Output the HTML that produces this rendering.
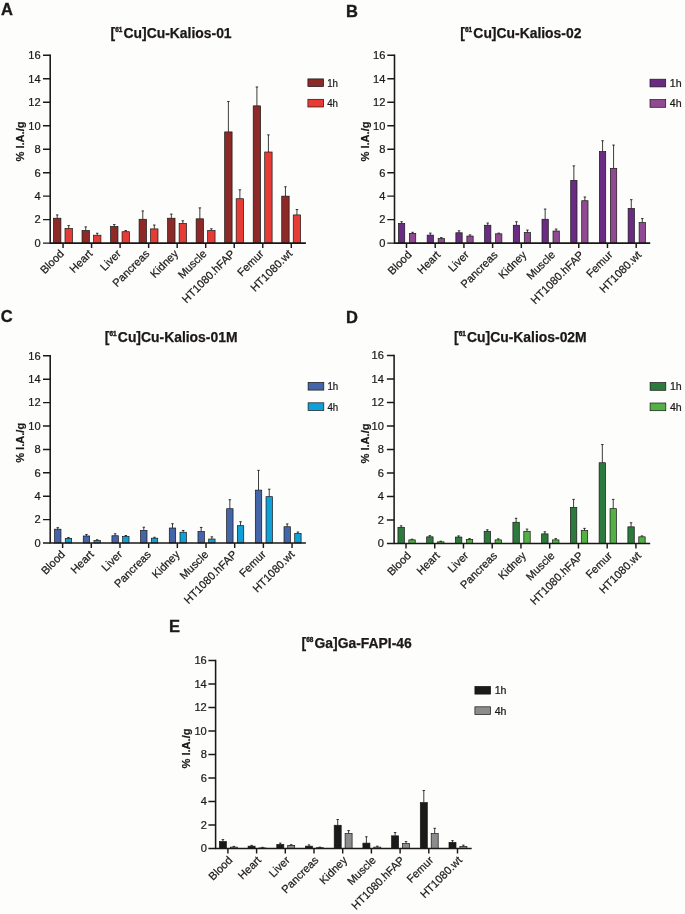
<!DOCTYPE html>
<html><head><meta charset="utf-8"><title>Biodistribution</title>
<style>html,body{margin:0;padding:0;background:#fdfdfc;}svg{display:block;filter:blur(0.3px);font-family:"Liberation Sans",sans-serif;}</style></head><body>
<svg width="685" height="914" viewBox="0 0 685 914">
<rect width="685" height="914" fill="#fdfdfc"/>
<g>
<text x="1.0" y="15.2" font-size="16.5" font-weight="bold" fill="#1c1819" stroke="#1c1819" stroke-width="0.35">A</text>
<text x="110.5" y="38.4" font-size="13.9" font-weight="bold" fill="#1c1819" stroke="#1c1819" stroke-width="0.25">[<tspan font-size="6.4" dy="-6.4" stroke-width="0.4">61</tspan><tspan dy="6.4" dx="1.3">Cu]Cu-Kalios-01</tspan></text>
<path d="M57.20 218.21V214.92M55.95 214.92H58.45" stroke="#0a0a0a" stroke-width="0.8" fill="none"/>
<rect x="53.50" y="218.21" width="7.4" height="24.89" fill="#8d2a28" stroke="#161616" stroke-width="0.7"/>
<path d="M68.70 228.42V225.61M67.45 225.61H69.95" stroke="#0a0a0a" stroke-width="0.8" fill="none"/>
<rect x="65.00" y="228.42" width="7.4" height="14.68" fill="#e73c36" stroke="#161616" stroke-width="0.7"/>
<path d="M85.73 230.54V226.90M84.48 226.90H86.98" stroke="#0a0a0a" stroke-width="0.8" fill="none"/>
<rect x="82.03" y="230.54" width="7.4" height="12.56" fill="#8d2a28" stroke="#161616" stroke-width="0.7"/>
<path d="M97.23 235.23V233.24M95.98 233.24H98.48" stroke="#0a0a0a" stroke-width="0.8" fill="none"/>
<rect x="93.53" y="235.23" width="7.4" height="7.87" fill="#e73c36" stroke="#161616" stroke-width="0.7"/>
<path d="M114.26 226.55V224.55M113.01 224.55H115.51" stroke="#0a0a0a" stroke-width="0.8" fill="none"/>
<rect x="110.56" y="226.55" width="7.4" height="16.55" fill="#8d2a28" stroke="#161616" stroke-width="0.7"/>
<path d="M125.76 231.71V230.54M124.51 230.54H127.01" stroke="#0a0a0a" stroke-width="0.8" fill="none"/>
<rect x="122.06" y="231.71" width="7.4" height="11.39" fill="#e73c36" stroke="#161616" stroke-width="0.7"/>
<path d="M142.79 219.27V210.93M141.54 210.93H144.04" stroke="#0a0a0a" stroke-width="0.8" fill="none"/>
<rect x="139.09" y="219.27" width="7.4" height="23.83" fill="#8d2a28" stroke="#161616" stroke-width="0.7"/>
<path d="M154.29 228.89V225.02M153.04 225.02H155.54" stroke="#0a0a0a" stroke-width="0.8" fill="none"/>
<rect x="150.59" y="228.89" width="7.4" height="14.21" fill="#e73c36" stroke="#161616" stroke-width="0.7"/>
<path d="M171.32 218.21V214.10M170.07 214.10H172.57" stroke="#0a0a0a" stroke-width="0.8" fill="none"/>
<rect x="167.62" y="218.21" width="7.4" height="24.89" fill="#8d2a28" stroke="#161616" stroke-width="0.7"/>
<path d="M182.82 223.49V220.79M181.57 220.79H184.07" stroke="#0a0a0a" stroke-width="0.8" fill="none"/>
<rect x="179.12" y="223.49" width="7.4" height="19.61" fill="#e73c36" stroke="#161616" stroke-width="0.7"/>
<path d="M199.85 218.80V207.88M198.60 207.88H201.10" stroke="#0a0a0a" stroke-width="0.8" fill="none"/>
<rect x="196.15" y="218.80" width="7.4" height="24.30" fill="#8d2a28" stroke="#161616" stroke-width="0.7"/>
<path d="M211.35 230.54V228.78M210.10 228.78H212.60" stroke="#0a0a0a" stroke-width="0.8" fill="none"/>
<rect x="207.65" y="230.54" width="7.4" height="12.56" fill="#e73c36" stroke="#161616" stroke-width="0.7"/>
<path d="M228.38 131.92V101.52M227.13 101.52H229.63" stroke="#0a0a0a" stroke-width="0.8" fill="none"/>
<rect x="224.68" y="131.92" width="7.4" height="111.18" fill="#8d2a28" stroke="#161616" stroke-width="0.7"/>
<path d="M239.88 198.72V189.80M238.63 189.80H241.13" stroke="#0a0a0a" stroke-width="0.8" fill="none"/>
<rect x="236.18" y="198.72" width="7.4" height="44.38" fill="#e73c36" stroke="#161616" stroke-width="0.7"/>
<path d="M256.91 105.86V86.96M255.66 86.96H258.16" stroke="#0a0a0a" stroke-width="0.8" fill="none"/>
<rect x="253.21" y="105.86" width="7.4" height="137.24" fill="#8d2a28" stroke="#161616" stroke-width="0.7"/>
<path d="M268.41 152.00V134.86M267.16 134.86H269.66" stroke="#0a0a0a" stroke-width="0.8" fill="none"/>
<rect x="264.71" y="152.00" width="7.4" height="91.10" fill="#e73c36" stroke="#161616" stroke-width="0.7"/>
<path d="M285.44 196.14V186.75M284.19 186.75H286.69" stroke="#0a0a0a" stroke-width="0.8" fill="none"/>
<rect x="281.74" y="196.14" width="7.4" height="46.96" fill="#8d2a28" stroke="#161616" stroke-width="0.7"/>
<path d="M296.94 214.92V209.52M295.69 209.52H298.19" stroke="#0a0a0a" stroke-width="0.8" fill="none"/>
<rect x="293.24" y="214.92" width="7.4" height="28.18" fill="#e73c36" stroke="#161616" stroke-width="0.7"/>
<path d="M50.20 54.56V243.80M49.50 243.10H305.90" stroke="#1c1819" stroke-width="1.55" fill="none"/>
<path d="M43.00 243.10H50.20M43.00 219.62H50.20M43.00 196.14H50.20M43.00 172.66H50.20M43.00 149.18H50.20M43.00 125.70H50.20M43.00 102.22H50.20M43.00 78.74H50.20M43.00 55.26H50.20M63.05 243.10V248.10M91.58 243.10V248.10M120.11 243.10V248.10M148.64 243.10V248.10M177.17 243.10V248.10M205.70 243.10V248.10M234.23 243.10V248.10M262.76 243.10V248.10M291.29 243.10V248.10" stroke="#1c1819" stroke-width="1.45" fill="none"/>
<text x="40.6" y="246.9" font-size="11.1" text-anchor="end" fill="#1c1819" stroke="#1c1819" stroke-width="0.22">0</text>
<text x="40.6" y="223.4" font-size="11.1" text-anchor="end" fill="#1c1819" stroke="#1c1819" stroke-width="0.22">2</text>
<text x="40.6" y="199.9" font-size="11.1" text-anchor="end" fill="#1c1819" stroke="#1c1819" stroke-width="0.22">4</text>
<text x="40.6" y="176.5" font-size="11.1" text-anchor="end" fill="#1c1819" stroke="#1c1819" stroke-width="0.22">6</text>
<text x="40.6" y="153.0" font-size="11.1" text-anchor="end" fill="#1c1819" stroke="#1c1819" stroke-width="0.22">8</text>
<text x="40.6" y="129.5" font-size="11.1" text-anchor="end" fill="#1c1819" stroke="#1c1819" stroke-width="0.22">10</text>
<text x="40.6" y="106.0" font-size="11.1" text-anchor="end" fill="#1c1819" stroke="#1c1819" stroke-width="0.22">12</text>
<text x="40.6" y="82.5" font-size="11.1" text-anchor="end" fill="#1c1819" stroke="#1c1819" stroke-width="0.22">14</text>
<text x="40.6" y="59.1" font-size="11.1" text-anchor="end" fill="#1c1819" stroke="#1c1819" stroke-width="0.22">16</text>
<text transform="translate(24.0 141.5) rotate(-90)" font-size="11.1" font-weight="bold" text-anchor="middle" fill="#1c1819" stroke="#1c1819" stroke-width="0.2">% I.A./g</text>
<text transform="translate(64.7 254.4) rotate(-45)" font-size="11.1" text-anchor="end" fill="#1c1819" stroke="#1c1819" stroke-width="0.22">Blood</text>
<text transform="translate(93.2 254.4) rotate(-45)" font-size="11.1" text-anchor="end" fill="#1c1819" stroke="#1c1819" stroke-width="0.22">Heart</text>
<text transform="translate(121.7 254.4) rotate(-45)" font-size="11.1" text-anchor="end" fill="#1c1819" stroke="#1c1819" stroke-width="0.22">Liver</text>
<text transform="translate(150.2 254.4) rotate(-45)" font-size="11.1" text-anchor="end" fill="#1c1819" stroke="#1c1819" stroke-width="0.22">Pancreas</text>
<text transform="translate(178.8 254.4) rotate(-45)" font-size="11.1" text-anchor="end" fill="#1c1819" stroke="#1c1819" stroke-width="0.22">Kidney</text>
<text transform="translate(207.3 254.4) rotate(-45)" font-size="11.1" text-anchor="end" fill="#1c1819" stroke="#1c1819" stroke-width="0.22">Muscle</text>
<text transform="translate(235.8 254.4) rotate(-45)" font-size="11.1" text-anchor="end" fill="#1c1819" stroke="#1c1819" stroke-width="0.22">HT1080.hFAP</text>
<text transform="translate(264.4 254.4) rotate(-45)" font-size="11.1" text-anchor="end" fill="#1c1819" stroke="#1c1819" stroke-width="0.22">Femur</text>
<text transform="translate(292.9 254.4) rotate(-45)" font-size="11.1" text-anchor="end" fill="#1c1819" stroke="#1c1819" stroke-width="0.22">HT1080.wt</text>
<rect x="307.9" y="78.9" width="15.7" height="7.7" fill="#8d2a28" stroke="#161616" stroke-width="0.7"/>
<text transform="translate(327.2 86.6) scale(0.92 1)" font-size="10.6" fill="#1c1819" stroke="#1c1819" stroke-width="0.22">1h</text>
<rect x="307.9" y="99.3" width="15.7" height="7.7" fill="#e73c36" stroke="#161616" stroke-width="0.7"/>
<text transform="translate(327.2 107.0) scale(0.92 1)" font-size="10.6" fill="#1c1819" stroke="#1c1819" stroke-width="0.22">4h</text>
</g>
<g>
<text x="346.0" y="16.5" font-size="16.5" font-weight="bold" fill="#1c1819" stroke="#1c1819" stroke-width="0.35">B</text>
<text x="460.3" y="38.4" font-size="13.9" font-weight="bold" fill="#1c1819" stroke="#1c1819" stroke-width="0.25">[<tspan font-size="6.4" dy="-6.4" stroke-width="0.4">61</tspan><tspan dy="6.4" dx="1.3">Cu]Cu-Kalios-02</tspan></text>
<path d="M401.60 223.49V221.73M400.35 221.73H402.85" stroke="#0a0a0a" stroke-width="0.8" fill="none"/>
<rect x="398.45" y="223.49" width="6.3" height="19.61" fill="#6a2c83" stroke="#161616" stroke-width="0.7"/>
<path d="M412.60 233.36V232.30M411.35 232.30H413.85" stroke="#0a0a0a" stroke-width="0.8" fill="none"/>
<rect x="409.45" y="233.36" width="6.3" height="9.74" fill="#8f4a91" stroke="#161616" stroke-width="0.7"/>
<path d="M430.31 235.12V233.12M429.06 233.12H431.56" stroke="#0a0a0a" stroke-width="0.8" fill="none"/>
<rect x="427.16" y="235.12" width="6.3" height="7.98" fill="#6a2c83" stroke="#161616" stroke-width="0.7"/>
<path d="M441.31 238.64V237.58M440.06 237.58H442.56" stroke="#0a0a0a" stroke-width="0.8" fill="none"/>
<rect x="438.16" y="238.64" width="6.3" height="4.46" fill="#8f4a91" stroke="#161616" stroke-width="0.7"/>
<path d="M459.02 232.77V230.77M457.77 230.77H460.27" stroke="#0a0a0a" stroke-width="0.8" fill="none"/>
<rect x="455.87" y="232.77" width="6.3" height="10.33" fill="#6a2c83" stroke="#161616" stroke-width="0.7"/>
<path d="M470.02 236.06V234.88M468.77 234.88H471.27" stroke="#0a0a0a" stroke-width="0.8" fill="none"/>
<rect x="466.87" y="236.06" width="6.3" height="7.04" fill="#8f4a91" stroke="#161616" stroke-width="0.7"/>
<path d="M487.73 225.26V223.02M486.48 223.02H488.98" stroke="#0a0a0a" stroke-width="0.8" fill="none"/>
<rect x="484.58" y="225.26" width="6.3" height="17.84" fill="#6a2c83" stroke="#161616" stroke-width="0.7"/>
<path d="M498.73 233.83V233.12M497.48 233.12H499.98" stroke="#0a0a0a" stroke-width="0.8" fill="none"/>
<rect x="495.58" y="233.83" width="6.3" height="9.27" fill="#8f4a91" stroke="#161616" stroke-width="0.7"/>
<path d="M516.44 225.26V221.73M515.19 221.73H517.69" stroke="#0a0a0a" stroke-width="0.8" fill="none"/>
<rect x="513.29" y="225.26" width="6.3" height="17.84" fill="#6a2c83" stroke="#161616" stroke-width="0.7"/>
<path d="M527.44 232.53V230.07M526.19 230.07H528.69" stroke="#0a0a0a" stroke-width="0.8" fill="none"/>
<rect x="524.29" y="232.53" width="6.3" height="10.57" fill="#8f4a91" stroke="#161616" stroke-width="0.7"/>
<path d="M545.15 219.27V209.05M543.90 209.05H546.40" stroke="#0a0a0a" stroke-width="0.8" fill="none"/>
<rect x="542.00" y="219.27" width="6.3" height="23.83" fill="#6a2c83" stroke="#161616" stroke-width="0.7"/>
<path d="M556.15 231.01V229.01M554.90 229.01H557.40" stroke="#0a0a0a" stroke-width="0.8" fill="none"/>
<rect x="553.00" y="231.01" width="6.3" height="12.09" fill="#8f4a91" stroke="#161616" stroke-width="0.7"/>
<path d="M573.86 180.41V165.85M572.61 165.85H575.11" stroke="#0a0a0a" stroke-width="0.8" fill="none"/>
<rect x="570.71" y="180.41" width="6.3" height="62.69" fill="#6a2c83" stroke="#161616" stroke-width="0.7"/>
<path d="M584.86 200.72V196.96M583.61 196.96H586.11" stroke="#0a0a0a" stroke-width="0.8" fill="none"/>
<rect x="581.71" y="200.72" width="6.3" height="42.38" fill="#8f4a91" stroke="#161616" stroke-width="0.7"/>
<path d="M602.57 151.53V140.73M601.32 140.73H603.82" stroke="#0a0a0a" stroke-width="0.8" fill="none"/>
<rect x="599.42" y="151.53" width="6.3" height="91.57" fill="#6a2c83" stroke="#161616" stroke-width="0.7"/>
<path d="M613.57 168.32V145.07M612.32 145.07H614.82" stroke="#0a0a0a" stroke-width="0.8" fill="none"/>
<rect x="610.42" y="168.32" width="6.3" height="74.78" fill="#8f4a91" stroke="#161616" stroke-width="0.7"/>
<path d="M631.28 208.47V199.66M630.03 199.66H632.53" stroke="#0a0a0a" stroke-width="0.8" fill="none"/>
<rect x="628.13" y="208.47" width="6.3" height="34.63" fill="#6a2c83" stroke="#161616" stroke-width="0.7"/>
<path d="M642.28 222.56V218.56M641.03 218.56H643.53" stroke="#0a0a0a" stroke-width="0.8" fill="none"/>
<rect x="639.13" y="222.56" width="6.3" height="20.54" fill="#8f4a91" stroke="#161616" stroke-width="0.7"/>
<path d="M394.50 54.56V243.80M393.80 243.10H650.20" stroke="#1c1819" stroke-width="1.55" fill="none"/>
<path d="M387.30 243.10H394.50M387.30 219.62H394.50M387.30 196.14H394.50M387.30 172.66H394.50M387.30 149.18H394.50M387.30 125.70H394.50M387.30 102.22H394.50M387.30 78.74H394.50M387.30 55.26H394.50M406.50 243.10V248.10M435.21 243.10V248.10M463.92 243.10V248.10M492.63 243.10V248.10M521.34 243.10V248.10M550.05 243.10V248.10M578.76 243.10V248.10M607.47 243.10V248.10M636.18 243.10V248.10" stroke="#1c1819" stroke-width="1.45" fill="none"/>
<text x="385.4" y="246.9" font-size="11.1" text-anchor="end" fill="#1c1819" stroke="#1c1819" stroke-width="0.22">0</text>
<text x="385.4" y="223.4" font-size="11.1" text-anchor="end" fill="#1c1819" stroke="#1c1819" stroke-width="0.22">2</text>
<text x="385.4" y="199.9" font-size="11.1" text-anchor="end" fill="#1c1819" stroke="#1c1819" stroke-width="0.22">4</text>
<text x="385.4" y="176.5" font-size="11.1" text-anchor="end" fill="#1c1819" stroke="#1c1819" stroke-width="0.22">6</text>
<text x="385.4" y="153.0" font-size="11.1" text-anchor="end" fill="#1c1819" stroke="#1c1819" stroke-width="0.22">8</text>
<text x="385.4" y="129.5" font-size="11.1" text-anchor="end" fill="#1c1819" stroke="#1c1819" stroke-width="0.22">10</text>
<text x="385.4" y="106.0" font-size="11.1" text-anchor="end" fill="#1c1819" stroke="#1c1819" stroke-width="0.22">12</text>
<text x="385.4" y="82.5" font-size="11.1" text-anchor="end" fill="#1c1819" stroke="#1c1819" stroke-width="0.22">14</text>
<text x="385.4" y="59.1" font-size="11.1" text-anchor="end" fill="#1c1819" stroke="#1c1819" stroke-width="0.22">16</text>
<text transform="translate(368.9 141.5) rotate(-90)" font-size="11.1" font-weight="bold" text-anchor="middle" fill="#1c1819" stroke="#1c1819" stroke-width="0.2">% I.A./g</text>
<text transform="translate(412.3 255.5) rotate(-45)" font-size="11.1" text-anchor="end" fill="#1c1819" stroke="#1c1819" stroke-width="0.22">Blood</text>
<text transform="translate(441.0 255.5) rotate(-45)" font-size="11.1" text-anchor="end" fill="#1c1819" stroke="#1c1819" stroke-width="0.22">Heart</text>
<text transform="translate(469.7 255.5) rotate(-45)" font-size="11.1" text-anchor="end" fill="#1c1819" stroke="#1c1819" stroke-width="0.22">Liver</text>
<text transform="translate(498.4 255.5) rotate(-45)" font-size="11.1" text-anchor="end" fill="#1c1819" stroke="#1c1819" stroke-width="0.22">Pancreas</text>
<text transform="translate(527.1 255.5) rotate(-45)" font-size="11.1" text-anchor="end" fill="#1c1819" stroke="#1c1819" stroke-width="0.22">Kidney</text>
<text transform="translate(555.8 255.5) rotate(-45)" font-size="11.1" text-anchor="end" fill="#1c1819" stroke="#1c1819" stroke-width="0.22">Muscle</text>
<text transform="translate(584.6 255.5) rotate(-45)" font-size="11.1" text-anchor="end" fill="#1c1819" stroke="#1c1819" stroke-width="0.22">HT1080.hFAP</text>
<text transform="translate(613.3 255.5) rotate(-45)" font-size="11.1" text-anchor="end" fill="#1c1819" stroke="#1c1819" stroke-width="0.22">Femur</text>
<text transform="translate(642.0 255.5) rotate(-45)" font-size="11.1" text-anchor="end" fill="#1c1819" stroke="#1c1819" stroke-width="0.22">HT1080.wt</text>
<rect x="650.0" y="79.2" width="15.7" height="7.7" fill="#6a2c83" stroke="#161616" stroke-width="0.7"/>
<text transform="translate(669.8 86.9) scale(1.0 1)" font-size="10.6" fill="#1c1819" stroke="#1c1819" stroke-width="0.22">1h</text>
<rect x="650.0" y="99.6" width="15.7" height="7.7" fill="#8f4a91" stroke="#161616" stroke-width="0.7"/>
<text transform="translate(669.8 107.3) scale(1.0 1)" font-size="10.6" fill="#1c1819" stroke="#1c1819" stroke-width="0.22">4h</text>
</g>
<g>
<text x="0.8" y="321.6" font-size="16.5" font-weight="bold" fill="#1c1819" stroke="#1c1819" stroke-width="0.35">C</text>
<text x="104.8" y="342.0" font-size="13.9" font-weight="bold" fill="#1c1819" stroke="#1c1819" stroke-width="0.25">[<tspan font-size="6.4" dy="-6.4" stroke-width="0.4">61</tspan><tspan dy="6.4" dx="1.3">Cu]Cu-Kalios-01M</tspan></text>
<path d="M57.77 529.19V527.67M56.52 527.67H59.02" stroke="#0a0a0a" stroke-width="0.8" fill="none"/>
<rect x="54.57" y="529.19" width="6.4" height="13.81" fill="#4466a9" stroke="#161616" stroke-width="0.7"/>
<path d="M68.47 538.44V537.50M67.22 537.50H69.72" stroke="#0a0a0a" stroke-width="0.8" fill="none"/>
<rect x="65.27" y="538.44" width="6.4" height="4.56" fill="#10a0d8" stroke="#161616" stroke-width="0.7"/>
<path d="M86.45 535.98V534.46M85.20 534.46H87.70" stroke="#0a0a0a" stroke-width="0.8" fill="none"/>
<rect x="83.25" y="535.98" width="6.4" height="7.02" fill="#4466a9" stroke="#161616" stroke-width="0.7"/>
<path d="M97.15 540.54V539.72M95.90 539.72H98.40" stroke="#0a0a0a" stroke-width="0.8" fill="none"/>
<rect x="93.95" y="540.54" width="6.4" height="2.46" fill="#10a0d8" stroke="#161616" stroke-width="0.7"/>
<path d="M115.13 535.75V533.76M113.88 533.76H116.38" stroke="#0a0a0a" stroke-width="0.8" fill="none"/>
<rect x="111.93" y="535.75" width="6.4" height="7.25" fill="#4466a9" stroke="#161616" stroke-width="0.7"/>
<path d="M125.83 536.45V535.51M124.58 535.51H127.08" stroke="#0a0a0a" stroke-width="0.8" fill="none"/>
<rect x="122.63" y="536.45" width="6.4" height="6.55" fill="#10a0d8" stroke="#161616" stroke-width="0.7"/>
<path d="M143.81 530.48V527.21M142.56 527.21H145.06" stroke="#0a0a0a" stroke-width="0.8" fill="none"/>
<rect x="140.61" y="530.48" width="6.4" height="12.52" fill="#4466a9" stroke="#161616" stroke-width="0.7"/>
<path d="M154.51 538.20V537.27M153.26 537.27H155.76" stroke="#0a0a0a" stroke-width="0.8" fill="none"/>
<rect x="151.31" y="538.20" width="6.4" height="4.80" fill="#10a0d8" stroke="#161616" stroke-width="0.7"/>
<path d="M172.49 528.02V523.70M171.24 523.70H173.74" stroke="#0a0a0a" stroke-width="0.8" fill="none"/>
<rect x="169.29" y="528.02" width="6.4" height="14.98" fill="#4466a9" stroke="#161616" stroke-width="0.7"/>
<path d="M183.19 532.24V530.48M181.94 530.48H184.44" stroke="#0a0a0a" stroke-width="0.8" fill="none"/>
<rect x="179.99" y="532.24" width="6.4" height="10.76" fill="#10a0d8" stroke="#161616" stroke-width="0.7"/>
<path d="M201.17 531.53V527.44M199.92 527.44H202.42" stroke="#0a0a0a" stroke-width="0.8" fill="none"/>
<rect x="197.97" y="531.53" width="6.4" height="11.47" fill="#4466a9" stroke="#161616" stroke-width="0.7"/>
<path d="M211.87 539.02V536.80M210.62 536.80H213.12" stroke="#0a0a0a" stroke-width="0.8" fill="none"/>
<rect x="208.67" y="539.02" width="6.4" height="3.98" fill="#10a0d8" stroke="#161616" stroke-width="0.7"/>
<path d="M229.85 508.72V499.71M228.60 499.71H231.10" stroke="#0a0a0a" stroke-width="0.8" fill="none"/>
<rect x="226.65" y="508.72" width="6.4" height="34.28" fill="#4466a9" stroke="#161616" stroke-width="0.7"/>
<path d="M240.55 525.68V521.71M239.30 521.71H241.80" stroke="#0a0a0a" stroke-width="0.8" fill="none"/>
<rect x="237.35" y="525.68" width="6.4" height="17.32" fill="#10a0d8" stroke="#161616" stroke-width="0.7"/>
<path d="M258.53 490.12V470.34M257.28 470.34H259.78" stroke="#0a0a0a" stroke-width="0.8" fill="none"/>
<rect x="255.33" y="490.12" width="6.4" height="52.88" fill="#4466a9" stroke="#161616" stroke-width="0.7"/>
<path d="M269.23 496.67V489.18M267.98 489.18H270.48" stroke="#0a0a0a" stroke-width="0.8" fill="none"/>
<rect x="266.03" y="496.67" width="6.4" height="46.33" fill="#10a0d8" stroke="#161616" stroke-width="0.7"/>
<path d="M287.21 526.74V523.93M285.96 523.93H288.46" stroke="#0a0a0a" stroke-width="0.8" fill="none"/>
<rect x="284.01" y="526.74" width="6.4" height="16.26" fill="#4466a9" stroke="#161616" stroke-width="0.7"/>
<path d="M297.91 533.52V532.00M296.66 532.00H299.16" stroke="#0a0a0a" stroke-width="0.8" fill="none"/>
<rect x="294.71" y="533.52" width="6.4" height="9.48" fill="#10a0d8" stroke="#161616" stroke-width="0.7"/>
<path d="M50.20 355.10V543.70M49.50 543.00H305.90" stroke="#1c1819" stroke-width="1.55" fill="none"/>
<path d="M43.00 543.00H50.20M43.00 519.60H50.20M43.00 496.20H50.20M43.00 472.80H50.20M43.00 449.40H50.20M43.00 426.00H50.20M43.00 402.60H50.20M43.00 379.20H50.20M43.00 355.80H50.20M62.62 543.00V548.00M91.30 543.00V548.00M119.98 543.00V548.00M148.66 543.00V548.00M177.34 543.00V548.00M206.02 543.00V548.00M234.70 543.00V548.00M263.38 543.00V548.00M292.06 543.00V548.00" stroke="#1c1819" stroke-width="1.45" fill="none"/>
<text x="40.6" y="546.8" font-size="11.1" text-anchor="end" fill="#1c1819" stroke="#1c1819" stroke-width="0.22">0</text>
<text x="40.6" y="523.4" font-size="11.1" text-anchor="end" fill="#1c1819" stroke="#1c1819" stroke-width="0.22">2</text>
<text x="40.6" y="500.0" font-size="11.1" text-anchor="end" fill="#1c1819" stroke="#1c1819" stroke-width="0.22">4</text>
<text x="40.6" y="476.6" font-size="11.1" text-anchor="end" fill="#1c1819" stroke="#1c1819" stroke-width="0.22">6</text>
<text x="40.6" y="453.2" font-size="11.1" text-anchor="end" fill="#1c1819" stroke="#1c1819" stroke-width="0.22">8</text>
<text x="40.6" y="429.8" font-size="11.1" text-anchor="end" fill="#1c1819" stroke="#1c1819" stroke-width="0.22">10</text>
<text x="40.6" y="406.4" font-size="11.1" text-anchor="end" fill="#1c1819" stroke="#1c1819" stroke-width="0.22">12</text>
<text x="40.6" y="383.0" font-size="11.1" text-anchor="end" fill="#1c1819" stroke="#1c1819" stroke-width="0.22">14</text>
<text x="40.6" y="359.6" font-size="11.1" text-anchor="end" fill="#1c1819" stroke="#1c1819" stroke-width="0.22">16</text>
<text transform="translate(24.0 442.8) rotate(-90)" font-size="11.1" font-weight="bold" text-anchor="middle" fill="#1c1819" stroke="#1c1819" stroke-width="0.2">% I.A./g</text>
<text transform="translate(65.7 555.1) rotate(-45)" font-size="11.1" text-anchor="end" fill="#1c1819" stroke="#1c1819" stroke-width="0.22">Blood</text>
<text transform="translate(94.4 555.1) rotate(-45)" font-size="11.1" text-anchor="end" fill="#1c1819" stroke="#1c1819" stroke-width="0.22">Heart</text>
<text transform="translate(123.1 555.1) rotate(-45)" font-size="11.1" text-anchor="end" fill="#1c1819" stroke="#1c1819" stroke-width="0.22">Liver</text>
<text transform="translate(151.8 555.1) rotate(-45)" font-size="11.1" text-anchor="end" fill="#1c1819" stroke="#1c1819" stroke-width="0.22">Pancreas</text>
<text transform="translate(180.4 555.1) rotate(-45)" font-size="11.1" text-anchor="end" fill="#1c1819" stroke="#1c1819" stroke-width="0.22">Kidney</text>
<text transform="translate(209.1 555.1) rotate(-45)" font-size="11.1" text-anchor="end" fill="#1c1819" stroke="#1c1819" stroke-width="0.22">Muscle</text>
<text transform="translate(237.8 555.1) rotate(-45)" font-size="11.1" text-anchor="end" fill="#1c1819" stroke="#1c1819" stroke-width="0.22">HT1080.hFAP</text>
<text transform="translate(266.5 555.1) rotate(-45)" font-size="11.1" text-anchor="end" fill="#1c1819" stroke="#1c1819" stroke-width="0.22">Femur</text>
<text transform="translate(295.2 555.1) rotate(-45)" font-size="11.1" text-anchor="end" fill="#1c1819" stroke="#1c1819" stroke-width="0.22">HT1080.wt</text>
<rect x="308.1" y="382.4" width="15.7" height="7.7" fill="#4466a9" stroke="#161616" stroke-width="0.7"/>
<text transform="translate(327.4 390.1) scale(0.92 1)" font-size="10.6" fill="#1c1819" stroke="#1c1819" stroke-width="0.22">1h</text>
<rect x="308.1" y="402.8" width="15.7" height="7.7" fill="#10a0d8" stroke="#161616" stroke-width="0.7"/>
<text transform="translate(327.4 410.5) scale(0.92 1)" font-size="10.6" fill="#1c1819" stroke="#1c1819" stroke-width="0.22">4h</text>
</g>
<g>
<text x="346.0" y="322.6" font-size="16.5" font-weight="bold" fill="#1c1819" stroke="#1c1819" stroke-width="0.35">D</text>
<text x="454.0" y="342.0" font-size="13.9" font-weight="bold" fill="#1c1819" stroke="#1c1819" stroke-width="0.25">[<tspan font-size="6.4" dy="-6.4" stroke-width="0.4">61</tspan><tspan dy="6.4" dx="1.3">Cu]Cu-Kalios-02M</tspan></text>
<path d="M401.15 527.32V525.79M399.90 525.79H402.40" stroke="#0a0a0a" stroke-width="0.8" fill="none"/>
<rect x="397.95" y="527.32" width="6.4" height="16.08" fill="#2d7a3d" stroke="#161616" stroke-width="0.7"/>
<path d="M412.05 539.88V539.17M410.80 539.17H413.30" stroke="#0a0a0a" stroke-width="0.8" fill="none"/>
<rect x="408.85" y="539.88" width="6.4" height="3.52" fill="#53b045" stroke="#161616" stroke-width="0.7"/>
<path d="M429.89 536.83V535.65M428.64 535.65H431.14" stroke="#0a0a0a" stroke-width="0.8" fill="none"/>
<rect x="426.69" y="536.83" width="6.4" height="6.57" fill="#2d7a3d" stroke="#161616" stroke-width="0.7"/>
<path d="M440.79 541.87V541.17M439.54 541.17H442.04" stroke="#0a0a0a" stroke-width="0.8" fill="none"/>
<rect x="437.59" y="541.87" width="6.4" height="1.53" fill="#53b045" stroke="#161616" stroke-width="0.7"/>
<path d="M458.63 537.06V535.89M457.38 535.89H459.88" stroke="#0a0a0a" stroke-width="0.8" fill="none"/>
<rect x="455.43" y="537.06" width="6.4" height="6.34" fill="#2d7a3d" stroke="#161616" stroke-width="0.7"/>
<path d="M469.53 539.41V538.59M468.28 538.59H470.78" stroke="#0a0a0a" stroke-width="0.8" fill="none"/>
<rect x="466.33" y="539.41" width="6.4" height="3.99" fill="#53b045" stroke="#161616" stroke-width="0.7"/>
<path d="M487.37 531.31V529.78M486.12 529.78H488.62" stroke="#0a0a0a" stroke-width="0.8" fill="none"/>
<rect x="484.17" y="531.31" width="6.4" height="12.09" fill="#2d7a3d" stroke="#161616" stroke-width="0.7"/>
<path d="M498.27 539.88V538.82M497.02 538.82H499.52" stroke="#0a0a0a" stroke-width="0.8" fill="none"/>
<rect x="495.07" y="539.88" width="6.4" height="3.52" fill="#53b045" stroke="#161616" stroke-width="0.7"/>
<path d="M516.11 522.27V518.28M514.86 518.28H517.36" stroke="#0a0a0a" stroke-width="0.8" fill="none"/>
<rect x="512.91" y="522.27" width="6.4" height="21.13" fill="#2d7a3d" stroke="#161616" stroke-width="0.7"/>
<path d="M527.01 531.31V529.08M525.76 529.08H528.26" stroke="#0a0a0a" stroke-width="0.8" fill="none"/>
<rect x="523.81" y="531.31" width="6.4" height="12.09" fill="#53b045" stroke="#161616" stroke-width="0.7"/>
<path d="M544.85 533.89V531.78M543.60 531.78H546.10" stroke="#0a0a0a" stroke-width="0.8" fill="none"/>
<rect x="541.65" y="533.89" width="6.4" height="9.51" fill="#2d7a3d" stroke="#161616" stroke-width="0.7"/>
<path d="M555.75 539.88V538.59M554.50 538.59H557.00" stroke="#0a0a0a" stroke-width="0.8" fill="none"/>
<rect x="552.55" y="539.88" width="6.4" height="3.52" fill="#53b045" stroke="#161616" stroke-width="0.7"/>
<path d="M573.59 507.48V499.38M572.34 499.38H574.84" stroke="#0a0a0a" stroke-width="0.8" fill="none"/>
<rect x="570.39" y="507.48" width="6.4" height="35.92" fill="#2d7a3d" stroke="#161616" stroke-width="0.7"/>
<path d="M584.49 530.60V528.37M583.24 528.37H585.74" stroke="#0a0a0a" stroke-width="0.8" fill="none"/>
<rect x="581.29" y="530.60" width="6.4" height="12.80" fill="#53b045" stroke="#161616" stroke-width="0.7"/>
<path d="M602.33 462.75V444.55M601.08 444.55H603.58" stroke="#0a0a0a" stroke-width="0.8" fill="none"/>
<rect x="599.13" y="462.75" width="6.4" height="80.65" fill="#2d7a3d" stroke="#161616" stroke-width="0.7"/>
<path d="M613.23 508.65V499.38M611.98 499.38H614.48" stroke="#0a0a0a" stroke-width="0.8" fill="none"/>
<rect x="610.03" y="508.65" width="6.4" height="34.75" fill="#53b045" stroke="#161616" stroke-width="0.7"/>
<path d="M631.07 526.85V522.74M629.82 522.74H632.32" stroke="#0a0a0a" stroke-width="0.8" fill="none"/>
<rect x="627.87" y="526.85" width="6.4" height="16.55" fill="#2d7a3d" stroke="#161616" stroke-width="0.7"/>
<path d="M641.97 536.83V535.89M640.72 535.89H643.22" stroke="#0a0a0a" stroke-width="0.8" fill="none"/>
<rect x="638.77" y="536.83" width="6.4" height="6.57" fill="#53b045" stroke="#161616" stroke-width="0.7"/>
<path d="M394.10 354.86V544.10M393.40 543.40H650.20" stroke="#1c1819" stroke-width="1.55" fill="none"/>
<path d="M386.90 543.40H394.10M386.90 519.92H394.10M386.90 496.44H394.10M386.90 472.96H394.10M386.90 449.48H394.10M386.90 426.00H394.10M386.90 402.52H394.10M386.90 379.04H394.10M386.90 355.56H394.10M406.00 543.40V548.40M434.74 543.40V548.40M463.48 543.40V548.40M492.22 543.40V548.40M520.96 543.40V548.40M549.70 543.40V548.40M578.44 543.40V548.40M607.18 543.40V548.40M635.92 543.40V548.40" stroke="#1c1819" stroke-width="1.45" fill="none"/>
<text x="383.9" y="547.2" font-size="11.1" text-anchor="end" fill="#1c1819" stroke="#1c1819" stroke-width="0.22">0</text>
<text x="383.9" y="523.7" font-size="11.1" text-anchor="end" fill="#1c1819" stroke="#1c1819" stroke-width="0.22">2</text>
<text x="383.9" y="500.2" font-size="11.1" text-anchor="end" fill="#1c1819" stroke="#1c1819" stroke-width="0.22">4</text>
<text x="383.9" y="476.8" font-size="11.1" text-anchor="end" fill="#1c1819" stroke="#1c1819" stroke-width="0.22">6</text>
<text x="383.9" y="453.3" font-size="11.1" text-anchor="end" fill="#1c1819" stroke="#1c1819" stroke-width="0.22">8</text>
<text x="383.9" y="429.8" font-size="11.1" text-anchor="end" fill="#1c1819" stroke="#1c1819" stroke-width="0.22">10</text>
<text x="383.9" y="406.3" font-size="11.1" text-anchor="end" fill="#1c1819" stroke="#1c1819" stroke-width="0.22">12</text>
<text x="383.9" y="382.8" font-size="11.1" text-anchor="end" fill="#1c1819" stroke="#1c1819" stroke-width="0.22">14</text>
<text x="383.9" y="359.4" font-size="11.1" text-anchor="end" fill="#1c1819" stroke="#1c1819" stroke-width="0.22">16</text>
<text transform="translate(368.8 443.5) rotate(-90)" font-size="11.1" font-weight="bold" text-anchor="middle" fill="#1c1819" stroke="#1c1819" stroke-width="0.2">% I.A./g</text>
<text transform="translate(411.7 556.3) rotate(-45)" font-size="11.1" text-anchor="end" fill="#1c1819" stroke="#1c1819" stroke-width="0.22">Blood</text>
<text transform="translate(440.4 556.3) rotate(-45)" font-size="11.1" text-anchor="end" fill="#1c1819" stroke="#1c1819" stroke-width="0.22">Heart</text>
<text transform="translate(469.2 556.3) rotate(-45)" font-size="11.1" text-anchor="end" fill="#1c1819" stroke="#1c1819" stroke-width="0.22">Liver</text>
<text transform="translate(497.9 556.3) rotate(-45)" font-size="11.1" text-anchor="end" fill="#1c1819" stroke="#1c1819" stroke-width="0.22">Pancreas</text>
<text transform="translate(526.7 556.3) rotate(-45)" font-size="11.1" text-anchor="end" fill="#1c1819" stroke="#1c1819" stroke-width="0.22">Kidney</text>
<text transform="translate(555.4 556.3) rotate(-45)" font-size="11.1" text-anchor="end" fill="#1c1819" stroke="#1c1819" stroke-width="0.22">Muscle</text>
<text transform="translate(584.1 556.3) rotate(-45)" font-size="11.1" text-anchor="end" fill="#1c1819" stroke="#1c1819" stroke-width="0.22">HT1080.hFAP</text>
<text transform="translate(612.9 556.3) rotate(-45)" font-size="11.1" text-anchor="end" fill="#1c1819" stroke="#1c1819" stroke-width="0.22">Femur</text>
<text transform="translate(641.6 556.3) rotate(-45)" font-size="11.1" text-anchor="end" fill="#1c1819" stroke="#1c1819" stroke-width="0.22">HT1080.wt</text>
<rect x="650.1" y="382.6" width="15.7" height="7.7" fill="#2d7a3d" stroke="#161616" stroke-width="0.7"/>
<text transform="translate(669.9 390.3) scale(1.0 1)" font-size="10.6" fill="#1c1819" stroke="#1c1819" stroke-width="0.22">1h</text>
<rect x="650.1" y="403.0" width="15.7" height="7.7" fill="#53b045" stroke="#161616" stroke-width="0.7"/>
<text transform="translate(669.9 410.7) scale(1.0 1)" font-size="10.6" fill="#1c1819" stroke="#1c1819" stroke-width="0.22">4h</text>
</g>
<g>
<text x="168.9" y="631.6" font-size="16.5" font-weight="bold" fill="#1c1819" stroke="#1c1819" stroke-width="0.35">E</text>
<text x="301.5" y="648.2" font-size="13.9" font-weight="bold" fill="#1c1819" stroke="#1c1819" stroke-width="0.25">[<tspan font-size="6.4" dy="-6.4" stroke-width="0.4">68</tspan><tspan dy="6.4" dx="1.3">Ga]Ga-FAPI-46</tspan></text>
<path d="M222.90 841.59V839.60M221.65 839.60H224.15" stroke="#0a0a0a" stroke-width="0.8" fill="none"/>
<rect x="219.40" y="841.59" width="7.0" height="6.81" fill="#1a1a1a" stroke="#161616" stroke-width="0.7"/>
<path d="M233.80 847.11V846.40M232.55 846.40H235.05" stroke="#0a0a0a" stroke-width="0.8" fill="none"/>
<rect x="230.30" y="847.11" width="7.0" height="1.29" fill="#8c8c8c" stroke="#161616" stroke-width="0.7"/>
<path d="M251.60 846.17V845.35M250.35 845.35H252.85" stroke="#0a0a0a" stroke-width="0.8" fill="none"/>
<rect x="248.10" y="846.17" width="7.0" height="2.23" fill="#1a1a1a" stroke="#161616" stroke-width="0.7"/>
<path d="M262.50 847.93V847.34M261.25 847.34H263.75" stroke="#0a0a0a" stroke-width="0.8" fill="none"/>
<rect x="259.00" y="847.93" width="7.0" height="0.47" fill="#8c8c8c" stroke="#161616" stroke-width="0.7"/>
<path d="M280.30 844.41V843.12M279.05 843.12H281.55" stroke="#0a0a0a" stroke-width="0.8" fill="none"/>
<rect x="276.80" y="844.41" width="7.0" height="3.99" fill="#1a1a1a" stroke="#161616" stroke-width="0.7"/>
<path d="M291.20 845.35V844.64M289.95 844.64H292.45" stroke="#0a0a0a" stroke-width="0.8" fill="none"/>
<rect x="287.70" y="845.35" width="7.0" height="3.05" fill="#8c8c8c" stroke="#161616" stroke-width="0.7"/>
<path d="M309.00 846.17V844.88M307.75 844.88H310.25" stroke="#0a0a0a" stroke-width="0.8" fill="none"/>
<rect x="305.50" y="846.17" width="7.0" height="2.23" fill="#1a1a1a" stroke="#161616" stroke-width="0.7"/>
<path d="M319.90 847.70V847.11M318.65 847.11H321.15" stroke="#0a0a0a" stroke-width="0.8" fill="none"/>
<rect x="316.40" y="847.70" width="7.0" height="0.70" fill="#8c8c8c" stroke="#161616" stroke-width="0.7"/>
<path d="M337.70 825.27V819.52M336.45 819.52H338.95" stroke="#0a0a0a" stroke-width="0.8" fill="none"/>
<rect x="334.20" y="825.27" width="7.0" height="23.13" fill="#1a1a1a" stroke="#161616" stroke-width="0.7"/>
<path d="M348.60 833.61V830.56M347.35 830.56H349.85" stroke="#0a0a0a" stroke-width="0.8" fill="none"/>
<rect x="345.10" y="833.61" width="7.0" height="14.79" fill="#8c8c8c" stroke="#161616" stroke-width="0.7"/>
<path d="M366.40 843.12V836.78M365.15 836.78H367.65" stroke="#0a0a0a" stroke-width="0.8" fill="none"/>
<rect x="362.90" y="843.12" width="7.0" height="5.28" fill="#1a1a1a" stroke="#161616" stroke-width="0.7"/>
<path d="M377.30 847.11V846.17M376.05 846.17H378.55" stroke="#0a0a0a" stroke-width="0.8" fill="none"/>
<rect x="373.80" y="847.11" width="7.0" height="1.29" fill="#8c8c8c" stroke="#161616" stroke-width="0.7"/>
<path d="M395.10 835.84V832.55M393.85 832.55H396.35" stroke="#0a0a0a" stroke-width="0.8" fill="none"/>
<rect x="391.60" y="835.84" width="7.0" height="12.56" fill="#1a1a1a" stroke="#161616" stroke-width="0.7"/>
<path d="M406.00 843.59V841.59M404.75 841.59H407.25" stroke="#0a0a0a" stroke-width="0.8" fill="none"/>
<rect x="402.50" y="843.59" width="7.0" height="4.81" fill="#8c8c8c" stroke="#161616" stroke-width="0.7"/>
<path d="M423.80 802.61V790.52M422.55 790.52H425.05" stroke="#0a0a0a" stroke-width="0.8" fill="none"/>
<rect x="420.30" y="802.61" width="7.0" height="45.79" fill="#1a1a1a" stroke="#161616" stroke-width="0.7"/>
<path d="M434.70 833.61V828.32M433.45 828.32H435.95" stroke="#0a0a0a" stroke-width="0.8" fill="none"/>
<rect x="431.20" y="833.61" width="7.0" height="14.79" fill="#8c8c8c" stroke="#161616" stroke-width="0.7"/>
<path d="M452.50 842.41V840.65M451.25 840.65H453.75" stroke="#0a0a0a" stroke-width="0.8" fill="none"/>
<rect x="449.00" y="842.41" width="7.0" height="5.99" fill="#1a1a1a" stroke="#161616" stroke-width="0.7"/>
<path d="M463.40 846.40V845.11M462.15 845.11H464.65" stroke="#0a0a0a" stroke-width="0.8" fill="none"/>
<rect x="459.90" y="846.40" width="7.0" height="2.00" fill="#8c8c8c" stroke="#161616" stroke-width="0.7"/>
<path d="M215.60 659.86V849.10M214.90 848.40H471.70" stroke="#1c1819" stroke-width="1.55" fill="none"/>
<path d="M208.40 848.40H215.60M208.40 824.92H215.60M208.40 801.44H215.60M208.40 777.96H215.60M208.40 754.48H215.60M208.40 731.00H215.60M208.40 707.52H215.60M208.40 684.04H215.60M208.40 660.56H215.60M227.90 848.40V853.40M256.60 848.40V853.40M285.30 848.40V853.40M314.00 848.40V853.40M342.70 848.40V853.40M371.40 848.40V853.40M400.10 848.40V853.40M428.80 848.40V853.40M457.50 848.40V853.40" stroke="#1c1819" stroke-width="1.45" fill="none"/>
<text x="206.8" y="852.2" font-size="11.1" text-anchor="end" fill="#1c1819" stroke="#1c1819" stroke-width="0.22">0</text>
<text x="206.8" y="828.7" font-size="11.1" text-anchor="end" fill="#1c1819" stroke="#1c1819" stroke-width="0.22">2</text>
<text x="206.8" y="805.2" font-size="11.1" text-anchor="end" fill="#1c1819" stroke="#1c1819" stroke-width="0.22">4</text>
<text x="206.8" y="781.8" font-size="11.1" text-anchor="end" fill="#1c1819" stroke="#1c1819" stroke-width="0.22">6</text>
<text x="206.8" y="758.3" font-size="11.1" text-anchor="end" fill="#1c1819" stroke="#1c1819" stroke-width="0.22">8</text>
<text x="206.8" y="734.8" font-size="11.1" text-anchor="end" fill="#1c1819" stroke="#1c1819" stroke-width="0.22">10</text>
<text x="206.8" y="711.3" font-size="11.1" text-anchor="end" fill="#1c1819" stroke="#1c1819" stroke-width="0.22">12</text>
<text x="206.8" y="687.8" font-size="11.1" text-anchor="end" fill="#1c1819" stroke="#1c1819" stroke-width="0.22">14</text>
<text x="206.8" y="664.4" font-size="11.1" text-anchor="end" fill="#1c1819" stroke="#1c1819" stroke-width="0.22">16</text>
<text transform="translate(189.8 748.5) rotate(-90)" font-size="11.1" font-weight="bold" text-anchor="middle" fill="#1c1819" stroke="#1c1819" stroke-width="0.2">% I.A./g</text>
<text transform="translate(233.1 860.9) rotate(-45)" font-size="11.1" text-anchor="end" fill="#1c1819" stroke="#1c1819" stroke-width="0.22">Blood</text>
<text transform="translate(261.8 860.9) rotate(-45)" font-size="11.1" text-anchor="end" fill="#1c1819" stroke="#1c1819" stroke-width="0.22">Heart</text>
<text transform="translate(290.5 860.9) rotate(-45)" font-size="11.1" text-anchor="end" fill="#1c1819" stroke="#1c1819" stroke-width="0.22">Liver</text>
<text transform="translate(319.2 860.9) rotate(-45)" font-size="11.1" text-anchor="end" fill="#1c1819" stroke="#1c1819" stroke-width="0.22">Pancreas</text>
<text transform="translate(347.9 860.9) rotate(-45)" font-size="11.1" text-anchor="end" fill="#1c1819" stroke="#1c1819" stroke-width="0.22">Kidney</text>
<text transform="translate(376.6 860.9) rotate(-45)" font-size="11.1" text-anchor="end" fill="#1c1819" stroke="#1c1819" stroke-width="0.22">Muscle</text>
<text transform="translate(405.3 860.9) rotate(-45)" font-size="11.1" text-anchor="end" fill="#1c1819" stroke="#1c1819" stroke-width="0.22">HT1080.hFAP</text>
<text transform="translate(434.0 860.9) rotate(-45)" font-size="11.1" text-anchor="end" fill="#1c1819" stroke="#1c1819" stroke-width="0.22">Femur</text>
<text transform="translate(462.7 860.9) rotate(-45)" font-size="11.1" text-anchor="end" fill="#1c1819" stroke="#1c1819" stroke-width="0.22">HT1080.wt</text>
<rect x="474.9" y="686.4" width="15.7" height="7.7" fill="#1a1a1a" stroke="#161616" stroke-width="0.7"/>
<text transform="translate(494.7 694.1) scale(1.0 1)" font-size="10.6" fill="#1c1819" stroke="#1c1819" stroke-width="0.22">1h</text>
<rect x="474.9" y="706.8" width="15.7" height="7.7" fill="#8c8c8c" stroke="#161616" stroke-width="0.7"/>
<text transform="translate(494.7 714.5) scale(1.0 1)" font-size="10.6" fill="#1c1819" stroke="#1c1819" stroke-width="0.22">4h</text>
</g>
</svg></body></html>
